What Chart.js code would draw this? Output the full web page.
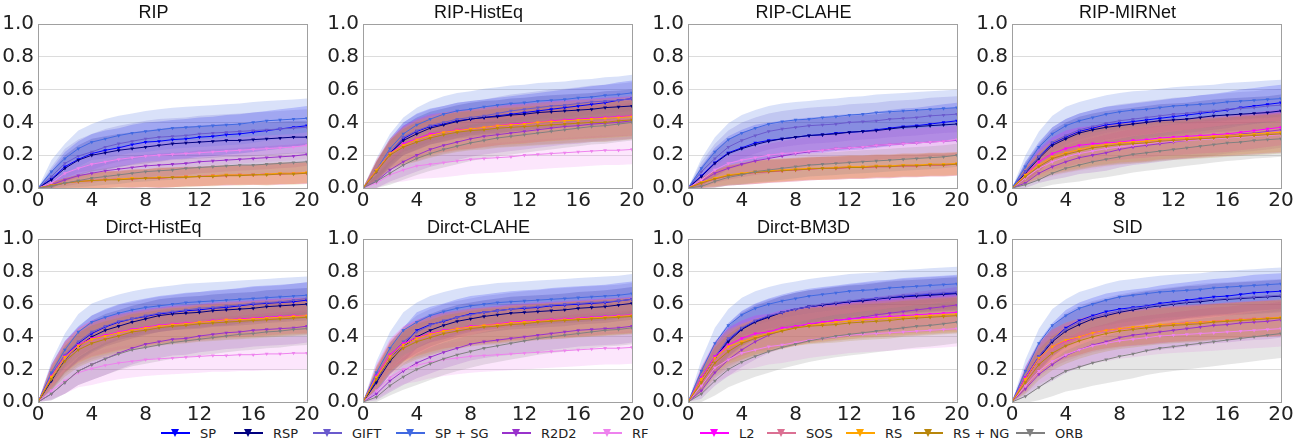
<!DOCTYPE html>
<html>
<head>
<meta charset="utf-8">
<script src="https://cdn.jsdelivr.net/npm/chart.js@4.4.0/dist/chart.umd.min.js"></script>
<style>
  body { margin:0; background:#fff; width:1303px; height:447px; position:relative; overflow:hidden; }
  .panel { position:absolute; }
  .leg { position:absolute; top:424px; height:18px; display:flex; align-items:center;
         font-family:'DejaVu Sans',sans-serif; font-size:13px; color:#222; white-space:nowrap; }
  .leg .h { position:relative; width:29px; height:2px; margin-right:10px; }
  .leg .h i { position:absolute; left:10px; top:-3px; width:0; height:0;
              border-left:4.5px solid transparent; border-right:4.5px solid transparent; border-top:8px solid; }
</style>
</head>
<body>
<script>
// ── data (values in percent, x = 0..20) ──────────────────────────────────
const STEPS   = [0,1,2,3,4,5,6,7,8,9,10,11,12,13,14,15,16,17,18,19,20];
const METHODS = ['SP','RSP','GIFT','SP + SG','R2D2','RF','L2','SOS','RS','RS + NG','ORB'];
const COLORS  = ['#0000ff','#000080','#6a5acd','#4169e1','#9932cc','#ee82ee','#ff00ff','#db7093','#ffa500','#b8860b','#808080'];
const TITLES  = ['RIP','RIP-HistEq','RIP-CLAHE','RIP-MIRNet','Dirct-HistEq','Dirct-CLAHE','Dirct-BM3D','SID'];

const ripMean = [
  [0,5.5,13,17.5,21,23,24.5,26.5,28,28.5,29.5,30,31,31.5,32.5,33,34,35,36,37,38],
  [0,5,12,17,20,21.5,23,24,25,26,27,27.5,28,28.5,29,29,29.5,30,30.5,31,31],
  [0,7,15,19.5,22,25,27,28.5,30,31,31.5,32,33,33.5,34,34.5,35,35.5,36,36.5,37],
  [0,10,18,24,28,30,32,33.5,34.5,35.5,36.5,37,37.5,38,38.5,39,40,41,41.5,42,42.5],
  [0,2,5,7.5,9,10.5,11.5,12.5,13.5,14,14.5,15,16,16.5,17,17.5,18,18.5,19,19.5,20.5],
  [0,3,9,12,14.5,16,17.5,18.5,19.5,20,20.5,21,21.5,22,22.5,23,23.5,24,24.5,25,26],
  [0,1.5,3,4,4.5,5,5.5,5.5,6,6,6.5,7,7,7.5,7.5,8,8,8.5,8.5,9,9],
  [0,1.5,3,4,4.5,5,5.5,6,6,6.5,6.5,7,7,7.5,8,8,8,8.5,9,9,9.5],
  [0,1.5,3,4,4.5,5,5.5,6,6,6.5,6.5,7,7,7.5,8,8,8,8.5,9,9,9.5],
  [0,1.5,3,4,4.5,5,5,5.5,6,6,6.5,6.5,7,7,7.5,7.5,8,8,8.5,8.5,9],
  [0,1,3,4.5,6,7,8,9,10,10.5,11,12,12.5,13,13.5,14,14,14.5,15,15.5,16]
];
const ripStd = [
  [0,6,9,11,12,12,12,12,12,12,12,12,12,12,12,12,12,12,12,12,12],
  [0,5,8,9,10,10,10,10,10,10,10,10,10,10,10,10,10,10,10,10,10],
  [0,6,9,10,11,11,11,11,11,11,11,11,11,11,11,11,11,11,11,11,11],
  [0,7,9,11,11,12,12,12,12.5,12.5,12.5,12.5,12.5,12.5,12.5,12.5,12.5,12,12,12,12],
  [0,2,4,5,6,6,6.5,6.5,7,7,7,7,7,7,7,7,7,7,7,7,7],
  [0,3,5,6,7,7,7.5,7.5,8,8,8,8,8,8,8,8,8,8,8,8,8],
  [0,2,3,4,4.5,5,5,5.5,5.5,6,6,6,6,6,6,6,6,6.5,6.5,6.5,6.5],
  [0,2,3,4,4.5,5,5,5.5,5.5,6,6,6,6,6,6,6,6,6.5,6.5,6.5,6.5],
  [0,2,3,4,4.5,5,5,5.5,5.5,6,6,6,6,6,6,6,6,6.5,6.5,6.5,6.5],
  [0,2,3,4,4.5,5,5,5.5,5.5,6,6,6,6,6,6,6,6,6.5,6.5,6.5,6.5],
  [0,1.5,3,4,5,5,5.5,5.5,6,6,6,6,6,6,6,6,6,6,6,6,6]
];

const ripHistEqMean = [
  [0,10,21,30,34.5,37.5,39,41,42,43,44,45,46,47,48,49,50,51,52,53.5,54.5],
  [0,10,21,29,33,36.5,38.5,40.5,42,43,43.5,44.5,45,46,46.5,47,47.5,48,49,49.5,50],
  [0,10,22,31,35,38,40,42,43,44,45.5,47,48,49,50,50.5,51.5,52.5,53,53.5,54.5],
  [0,11,24,33,38.5,42,45,47,48,49.5,50.5,51.5,52,53,53.5,54,55,55.5,56.5,57,58],
  [0,4,11,16,20,23.5,26,28,30,31.5,32.5,33.5,34.5,35.5,36.5,37.5,38,39,39.5,40,41],
  [0,3,8,11,13.5,14.5,15.5,16.5,17.5,18,18.5,19,20,20.5,21,21.5,22,22.5,23,23,23.5],
  [0,11,21,27,30,33,34,35.5,36,37,38,39,39.5,40,41,41.5,42,42.5,43,43.5,44],
  [0,10,20,25.5,28.5,31,33,34.5,35.5,36.5,37,37.5,38,38.5,39,39.5,40,40.5,41,41.5,42],
  [0,11,21,26,29.5,32,34,35,36,37,38,38.5,39,40,40.5,41,41.5,42,42.5,43,43.5],
  [0,10,20,25,28,30.5,32.5,34,35,35.5,36.5,37,37.5,38,38.5,39,39.5,40,40,41,41.5],
  [0,4,9,14,18,21,23.5,25.5,27.5,29,30.5,31.5,32.5,33.5,34.5,35.5,36.5,37.5,38,39,40]
];
const ripHistEqStd = [
  [0,6,9,10,11,11,11,11,11,11,11,11,11,11,11,11,11,11,11,11,11],
  [0,6,8,9,10,10,10,10,10,10,10,10,10,10,10,10,10,10,10,10,10],
  [0,6,8,9,10,10,10,10,10,10,10,10,10,10,10,10,10,10,10,10,10],
  [0,7,9,10,10.5,11,11,11,11,11,11,11,11,11,11,11,11,11,11,11,11],
  [0,4,7,9,10,10.5,11,11,11,11,11,11,11,11,11,11,11,11,11,11,11],
  [0,3,5,7,8,8.5,9,9,9,9,9,9,9,9,9,9,9,9,9,9,9],
  [0,6,9,11,12,12,12,12,12,12,12,12,12,12,12,12,12,12,12,12,12],
  [0,6,9,11,12,12,12,12,12,12,12,12,12,12,12,12,12,12,12,12,12],
  [0,6,9,11,12,12,12,12,12,12,12,12,12,12,12,12,12,12,12,12,12],
  [0,6,9,11,12,12,12,12,12,12,12,12,12,12,12,12,12,12,12,12,12],
  [0,4,7,9,10,10.5,11,11,11,11,11,11,11,11,11,11,11,11,11,11,11]
];

const ripClaheMean = [
  [0,7.5,15.5,21.5,24.5,27.5,29,30,31,32,32.5,33.5,34,34.5,35.5,36.5,37.5,38,39,40,41],
  [0,7,15,21,24,26.5,28.5,30,31,32,32.5,33,34,34.5,35,36,37,37.5,38,38.5,39],
  [0,10,18,25,29,32,34.5,36,37,38,38.5,39,40,40.5,41,42,42.5,43,44,44.5,45],
  [0,12,22,29.5,33.5,36.5,39,40.5,41.5,42,43,43.5,44.5,45,46,46.5,47,47.5,48,48.5,49],
  [0,4,9,12,14.5,16.5,18,19.5,21,22,23,24,24.5,25,26,26.5,27,27.5,28,28.5,29],
  [0,5,11,15,17,18.5,20,21,21.5,22.5,23,24,24.5,25,26,26.5,27,27.5,28,28.5,29.5],
  [0,3,5.5,7.5,8.5,9.5,10,10.5,11,11.5,12,12,12.5,12.5,13,13,13.5,13.5,14,14,14.5],
  [0,3,5.5,7.5,8.5,9.5,10.5,11,11.5,12,12,12.5,13,13,13.5,13.5,14,14,14.5,14.5,15],
  [0,3.5,6,8,9,10,10.5,11,11.5,12,12,12.5,13,13,13.5,13.5,14,14,14.5,14.5,15],
  [0,3,5.5,7.5,8.5,9.5,10,10.5,11,11.5,12,12,12.5,12.5,13,13,13.5,13.5,14,14,14.5],
  [0,1,4,6.5,8,10,11,12,13,14,14.5,15,15.5,16,16.5,17,17.5,18,18.5,19,20]
];
const ripClaheStd = [
  [0,6,9,10,11,11,11,11,11,11,11,11,11,11,11,11,11,11,11,11,11],
  [0,6,8,9,10,10,10,10,10,10,10,10,10,10,10,10,10,10,10,10,10],
  [0,6,9,10,11,11,11,11,11,11,11,11,11,11,11,11,11,11,11,11,11],
  [0,6,9,10,11,11,11,11,11,11,11,11,11,11,11,11,11,11,11,11,11],
  [0,4,6,7,8,8.5,9,9,9,9,9,9,9,9,9,9,9,9,9,9,9],
  [0,4,6,7,8,8.5,9,9,9,9,9,9,9,9,9,9,9,9,9,9,9],
  [0,3,5,6,6.5,7,7,7,7,7,7,7,7,7,7,7,7,7,7,7,7],
  [0,3,5,6,6.5,7,7,7,7,7,7,7,7,7,7,7,7,7,7,7,7],
  [0,3,5,6,6.5,7,7,7,7,7,7,7,7,7,7,7,7,7,7,7,7],
  [0,3,5,6,6.5,7,7,7,7,7,7,7,7,7,7,7,7,7,7,7,7],
  [0,2,4,5,6,6.5,7,7,7,7,7,7,7,7,7,7,7,7,7,7,7]
];

const ripMirnetMean = [
  [0,10,19,27,31,34.5,36.5,38.5,39.5,40.5,41.5,42.5,43.5,44.5,45.5,46.5,47.5,49,50,51,52],
  [0,9,18,26,30,33.5,35.5,37,38,39,40,41,41.5,42,43,44,44.5,45,45.5,46,47],
  [0,10,19,28,32,35.5,37.5,39.5,41,42,43,44,45,45.5,46.5,47,48,48.5,49,50,50.5],
  [0,13,25,33,38,41,43,45,46.5,47.5,48,49,50,50.5,51,51.5,52.5,53,53.5,54,54.5],
  [0,3,9,13,16,18.5,20,21.5,23.5,25,26,27,28,29,30,31,32,33,33.5,34.5,35.5],
  [0,6,12,16,19,21,22.5,24,25,26,27,28,28.5,29,29.5,30,30.5,31,31.5,32,32.5],
  [0,8,16,21,24,26,27,27.5,28,29,29.5,30.5,31,31.5,32,32.5,33,34,35,36,37],
  [0,7,14,18.5,21,23,25,26,27,27.5,28,29,29.5,30,30.5,31,31.5,32,32.5,33,33.5],
  [0,8,14,19,21.5,23.5,25.5,26.5,27.5,28,28.5,29.5,30,30.5,31,31.5,32,32.5,33,33.5,34],
  [0,7,13,18,20.5,22.5,24.5,25.5,26.5,27,27.5,28.5,29,29.5,30,30.5,31,31.5,32,32.5,33],
  [0,2,5,9,12,14,16,17.5,19,20.5,21.5,22.5,23.5,24.5,25.5,26.5,27.5,28,29,29.5,30]
];
const ripMirnetStd = [
  [0,6,9,10,11,11,11,11,11,11,11,11,11,11,11,11,11,11,11,11,11],
  [0,6,8,9,10,10,10,10,10,10,10,10,10,10,10,10,10,10,10,10,10],
  [0,6,8,9,10,10,10,10,10,10,10,10,10,10,10,10,10,10,10,10,10],
  [0,7,9.5,11,11.5,11.5,11.5,11.5,11.5,11.5,11.5,11.5,11.5,11.5,11.5,11.5,11.5,11.5,11.5,11.5,11.5],
  [0,3,6,8,9.5,10,10.5,11,11,11,11,11,11,11,11,11,11,11,11,11,11],
  [0,4,7,9,10,10.5,11,11,11,11,11,11,11,11,11,11,11,11,11,11,11],
  [0,5,8,10,11,11,11,11,11,11,11,11,11,11,11,11,11,11,11,11,11],
  [0,5,8,10,11,11.5,12,12,12,12,12,12,12,12,12,12,12,12,12,12,12],
  [0,5,8,10,11,11.5,12,12,12,12,12,12,12,12,12,12,12,12,12,12,12],
  [0,5,8,10,11,11.5,12,12,12,12,12,12,12,12,12,12,12,12,12,12,12],
  [0,2,5,7,9,10,10.5,11,11,11,11,11,11,11,11,11,11,11,11,11,11]
];

const dirctHistEqMean = [
  [0,16,28,36,42,46,49,51,52.5,54,55,56,56.5,57.5,58,59,60,60.5,61,61.5,62.5],
  [0,13,26,34,40,44,46.5,49,51,53,54,54.5,55,56,56.5,57,57.5,58.5,59,59.5,60],
  [0,17,29,37,43,46.5,49.5,51,53,54.5,55.5,56.5,57.5,58,59,59.5,60.5,61,61.5,62.5,63.5],
  [0,18,32,43,49,52,54.5,56.5,58,59,60,61,61.5,62,62.5,63,63.5,64,64.5,65,65.5],
  [0,5,12,19,23,26.5,30,33,35.5,37,38.5,39,40.5,41.5,42.5,43,44,44.5,45,45.5,46.5],
  [0,7,13,18,20.5,22.5,24,25,26,26.5,27,27.5,28,28.5,28.5,29,29,29.5,29.5,30,30],
  [0,16,28,35,39,41,43,44.5,46,47,48,48.5,49,50,50.5,51,51.5,52,52.5,53,53],
  [0,15,26.5,33,37,39.5,41.5,43.5,45,46,47,47.5,48.5,49,49.5,50,50.5,51,51.5,52,52.5],
  [0,15.5,27.5,34.5,38.5,40.5,42.5,44,45.5,46.5,47.5,48,49,49.5,50.5,50.5,51,51.5,52,52.5,53],
  [0,14,25,32,36,38.5,40.5,43,44,45.5,46.5,47,48,48.5,49,49.5,50,50.5,51,51.5,52],
  [0,5,12,19,23,26.5,29.5,32,33.5,35,36.5,37.5,38.5,39.5,40.5,41.5,42,43,43.5,44.5,45]
];
const dirctHistEqStd = [
  [0,7,9.5,10.5,11,11,11,11,11,11,11,11,11,11,11,11,11,11,11,11,11],
  [0,6,8,9,10,10,10,10,10,10,10,10,10,10,10,10,10,10,10,10,10],
  [0,6,8,9,10,10,10,10,10,10,10,10,10,10,10,10,10,10,10,10,10],
  [0,7,10,11,11.5,11.5,11.5,11.5,11.5,11.5,11.5,11.5,11.5,11.5,11.5,11.5,11.5,11.5,11.5,11.5,11.5],
  [0,4,7,8.5,9.5,10,10,10,10,10,10,10,10,10,10,10,10,10,10,10,10],
  [0,5,8,9,10,10,10,10,10,10,10,10,10,10,10,10,10,10,10,10,10],
  [0,7,9.5,10.5,11,11,11,11,11,11,11,11,11,11,11,11,11,11,11,11,11],
  [0,7,9.5,10.5,11,11,11,11,11,11,11,11,11,11,11,11,11,11,11,11,11],
  [0,7,9.5,10.5,11,11,11,11,11,11,11,11,11,11,11,11,11,11,11,11,11],
  [0,7,9.5,10.5,11,11,11,11,11,11,11,11,11,11,11,11,11,11,11,11,11],
  [0,4,7,8.5,9.5,10,10,10,10,10,10,10,10,10,10,10,10,10,10,10,10]
];

const dirctClaheMean = [
  [0,13,27,35,44,47.5,49.5,52,54,55,56,57,57.5,58,59,59.5,60,60.5,61,62,63],
  [0,12,25,34,40,44,47,49.5,51,52.5,53.5,54.5,55,55.5,56,56.5,57.5,58,58.5,59.5,60.5],
  [0,16,28,37,43,47,50,52,53.5,55,56,57,58,58.5,59.5,60,60.5,61,61.5,62,63],
  [0,18,33,44,49,53,55.5,57.5,59,60,61,61.5,62,62.5,63,63.5,64,64.5,65,65.5,66.5],
  [0,5,13,19,24,27.5,30.5,33,35.5,37,38,39,40,41,42,43,44,44.5,45,45.5,46.5],
  [0,7,15,20,22.5,24.5,26,27,28,28.5,29,29.5,30,30.5,31,31.5,32,32.5,33,33,33.5],
  [0,16,29,36,39.5,42,44,45,46.5,47,48,49,49.5,50,50.5,51,51.5,52,52.5,53,53.5],
  [0,15,27,34,38,40.5,42.5,44,45.5,46.5,47,48,48.5,49,49.5,50,51,51.5,52,52.5,53],
  [0,15,28,35,39,41.5,43.5,45,46,47,47.5,48.5,49,49.5,50,50.5,51,51.5,52,52.5,53],
  [0,14,26,33,37,39.5,42,43.5,45,46,46.5,47.5,48,49,49.5,50,50.5,51,51.5,52,52.5],
  [0,3,10,15.5,20,23.5,26.5,29,31,33,34.5,36,37.5,39,40,41,42,43,44,44.5,45.5]
];
const dirctClaheStd = [
  [0,7,9.5,10.5,11,11,11,11,11,11,11,11,11,11,11,11,11,11,11,11,11],
  [0,6,8,9,10,10,10,10,10,10,10,10,10,10,10,10,10,10,10,10,10],
  [0,6,8,9,10,10,10,10,10,10,10,10,10,10,10,10,10,10,10,10,10],
  [0,7,10,11,12,12,12,12,12,12,12,12,12,12,12,12,12,12,12,12,12],
  [0,4,7,8.5,9.5,10,10,10,10,10,10,10,10,10,10,10,10,10,10,10,10],
  [0,5,8,9,10,10,10,10,10,10,10,10,10,10,10,10,10,10,10,10,10],
  [0,7,9.5,10.5,11,11,11,11,11,11,11,11,11,11,11,11,11,11,11,11,11],
  [0,7,9.5,10.5,11,11,11,11,11,11,11,11,11,11,11,11,11,11,11,11,11],
  [0,7,9.5,10.5,11,11,11,11,11,11,11,11,11,11,11,11,11,11,11,11,11],
  [0,7,9.5,10.5,11,11,11,11,11,11,11,11,11,11,11,11,11,11,11,11,11],
  [0,3,6,8,9.5,10,10,10,10,10,10,10,10,10,10,10,10,10,10,10,10]
];

const dirctBm3dMean = [
  [0,14,27,38,45,49.5,52.5,55,57,58.5,59.5,60.5,61.5,62.5,63.5,64,65,65.5,66,66.5,67],
  [0,14,27,37,44.5,49,52,55,57,58.5,59.5,60.5,61.5,62,63,64,64.5,65,65.5,66,66.5],
  [0,15,28,39,45.5,50,53,55,57,58.5,60,61,62,63,63.5,64.5,65.5,66,66.5,67,67.5],
  [0,19,36,47,53.5,57.5,60,62,63.5,65,66,67,68,68.5,69,70,70.5,71,71.5,72,72.5],
  [0,7,18,26,32,37,41,44,46,47.5,49,50,51,52,53.5,54.5,55.5,56.5,57.5,58.5,59.5],
  [0,10,21,26,30,32,34,35,36.5,38,39,40,41,41.5,42,42.5,43,43.5,44,44.5,45],
  [0,15,28,35,39,42,43,45.5,46.5,48,49,50,51,51.5,52,52.5,53,53.5,54,54.5,55],
  [0,13,25.5,32.5,37,40,42,44,45.5,47,47.5,48.5,49.5,50,50.5,51,51.5,52,52.5,53,53.5],
  [0,14,27,34,37,40,42,44,45.5,47,48,49,49.5,50.5,51,51.5,52,52.5,53,53.5,54],
  [0,12,24,31,36,39,41.5,43.5,45.5,46.5,47,47.5,48.5,49,49.5,50,51,51.5,52,52.5,53],
  [0,5,13,20,24.5,28,31,33.5,35.5,37.5,39,40.5,41.5,42.5,43.5,44.5,45.5,46.5,47,48,49]
];
const dirctBm3dStd = [
  [0,7,9.5,10.5,11,11,11,11,11,11,11,11,11,11,11,11,11,11,11,11,11],
  [0,6,8,9,10,10,10,10,10,10,10,10,10,10,10,10,10,10,10,10,10],
  [0,6,8,9,10,10,10,10,10,10,10,10,10,10,10,10,10,10,10,10,10],
  [0,7,9.5,10,10.5,10.5,10.5,10.5,10.5,10.5,10.5,10.5,10.5,10.5,10.5,10.5,10.5,10.5,10.5,10.5,10.5],
  [0,5,8,10,10.5,11,11,11,11,11,11,11,11,11,11,11,11,11,11,11,11],
  [0,6,9,10,10.5,11,11,11,11,11,11,11,11,11,11,11,11,11,11,11,11],
  [0,7,9.5,10.5,11,11,11,11,11,11,11,11,11,11,11,11,11,11,11,11,11],
  [0,7,9.5,10.5,11,11,11,11,11,11,11,11,11,11,11,11,11,11,11,11,11],
  [0,7,9.5,10.5,11,11,11,11,11,11,11,11,11,11,11,11,11,11,11,11,11],
  [0,7,9.5,10.5,11,11,11,11,11,11,11,11,11,11,11,11,11,11,11,11,11],
  [0,5,9,11,12,12.5,13,13,13,13,13,13,13,13,13,13,13,13,13,13,13]
];

const sidMean = [
  [0,15,28,38,45.5,50,53,55.5,57,58,59,60.5,61.5,62.5,63.5,64.5,65,66,67,67.5,68],
  [0,14,27,37,43.5,47.5,51,53,55,56.5,58,59,60,61,61.5,62.5,63,63.5,64,64.5,65],
  [0,15,28,38,44.5,49,52,54,56,57.5,58.5,59.5,60.5,61.5,62.5,63,63.5,64,64.5,65,65.5],
  [0,19,36,47,53,57.5,60,62.5,64.5,65.5,66.5,67.5,68,68.5,69,70,70.5,71,71.5,72,72.5],
  [0,8,17,23,28.5,32,35,37,39.5,41,42,43,44,45,46,47,47.5,48.5,49,49.5,50.5],
  [0,10,19,25,29,32,34.5,36,37.5,38.5,39.5,40.5,41,41.5,42,42.5,43,43.5,44,44.5,45],
  [0,15,27,34,37.5,40,42.5,44,45,45.5,46.5,47,48,48.5,49,49.5,50,50.5,51,51.5,51.5],
  [0,13,25,32,36,39,41.5,43,44.5,45.5,46,47,47.5,48,48.5,49,49.5,50,50.5,51,51.5],
  [0,14,27,34,38,40,42.5,44,45,46,46.5,47.5,48,48.5,49,49.5,50,50.5,51,51.5,52],
  [0,12,23,30,34.5,37.5,40,42,43.5,44.5,45.5,46.5,47,47.5,48,49,49.5,50,50.5,51,51.5],
  [0,3.5,9,14.5,19,21.5,24,26,28,29.5,31.5,33,34,35,36,37,38,39,40,41,42]
];
const sidStd = [
  [0,7,9.5,10.5,11,11,11,11,11,11,11,11,11,11,11,11,11,11,11,11,11],
  [0,6,8,9,10,10,10,10,10,10,10,10,10,10,10,10,10,10,10,10,10],
  [0,6,8,9,10,10,10,10,10,10,10,10,10,10,10,10,10,10,10,10,10],
  [0,7,9,10,10,10,10,10,10,10,10,10,10,10,10,10,10,10,10,10,10],
  [0,5,8,10,10.5,11,11,11,11,11,11,11,11,11,11,11,11,11,11,11,11],
  [0,5,8,10,10.5,11,11,11,11,11,11,11,11,11,11,11,11,11,11,11,11],
  [0,7,9.5,10.5,11,11,11,11,11,11,11,11,11,11,11,11,11,11,11,11,11],
  [0,7,9.5,10.5,11,11,11,11,11,11,11,11,11,11,11,11,11,11,11,11,11],
  [0,7,9.5,10.5,11,11,11,11,11,11,11,11,11,11,11,11,11,11,11,11,11],
  [0,7,9.5,10.5,11,11,11,11,11,11,11,11,11,11,11,11,11,11,11,11,11],
  [0,4,8,11,12.5,13.5,14,14.5,15,15,15,15,15,15,15,15,15,15,15,15,15]
];

const PANEL_MEANS = [ripMean, ripHistEqMean, ripClaheMean, ripMirnetMean, dirctHistEqMean, dirctClaheMean, dirctBm3dMean, sidMean];
const PANEL_STDS  = [ripStd, ripHistEqStd, ripClaheStd, ripMirnetStd, dirctHistEqStd, dirctClaheStd, dirctBm3dStd, sidStd];

// ── layout ────────────────────────────────────────────────────────────────
const CANVAS_LEFT = [0, 325, 650, 974];
const CANVAS_TOP  = [0, 215];
const CANVAS_H    = [209, 208];
const CANVAS_W    = 321;
const LEGEND_X    = [200, 273, 352, 435, 541, 632, 739, 806, 885, 953, 1055];

function rgba(hex, a) {
  const n = parseInt(hex.slice(1), 16);
  return `rgba(${n >> 16},${(n >> 8) & 255},${n & 255},${a})`;
}

// box around the plot area (top + right spines)
const frame = {
  id: 'frame',
  afterDraw(chart) {
    const { ctx, chartArea: a } = chart;
    ctx.save();
    ctx.strokeStyle = '#a0a0a0';
    ctx.lineWidth = 1;
    ctx.strokeRect(Math.round(a.left) + 0.5, Math.round(a.top) + 0.5,
                   Math.round(a.right - a.left), Math.round(a.bottom - a.top));
    ctx.restore();
  }
};

const tickFont = { family: "'DejaVu Sans', sans-serif", size: 20 };

PANEL_MEANS.forEach((means, p) => {
  const stds = PANEL_STDS[p];
  const row = Math.floor(p / 4), col = p % 4;

  const div = document.createElement('div');
  div.className = 'panel';
  div.style.left = CANVAS_LEFT[col] + 'px';
  div.style.top = CANVAS_TOP[row] + 'px';
  const cv = document.createElement('canvas');
  cv.width = CANVAS_W; cv.height = CANVAS_H[row];
  cv.style.width = CANVAS_W + 'px'; cv.style.height = CANVAS_H[row] + 'px';
  div.appendChild(cv);
  document.body.appendChild(div);

  // Chart.js draws higher `order` first, so later methods get lower values
  // to end up on top (same stacking as the original plotting order).
  const datasets = [];
  METHODS.forEach((m, k) => {
    datasets.push({
      data: STEPS.map((x, i) => ({ x, y: (means[k][i] + stds[k][i]) / 100 })),
      borderWidth: 0, pointRadius: 0, fill: false, order: 200 - k,
    });
    datasets.push({
      data: STEPS.map((x, i) => ({ x, y: (means[k][i] - stds[k][i]) / 100 })),
      borderWidth: 0, pointRadius: 0, fill: '-1', order: 200 - k,
      backgroundColor: rgba(COLORS[k], 0.2),
    });
  });
  METHODS.forEach((m, k) => {
    datasets.push({
      label: m,
      data: STEPS.map((x, i) => ({ x, y: means[k][i] / 100 })),
      borderColor: COLORS[k], backgroundColor: COLORS[k], borderWidth: 1,
      pointStyle: 'triangle', pointRotation: 180, pointRadius: 2.2, pointBorderWidth: 0,
      tension: 0, fill: false, order: 100 - k,
    });
  });

  new Chart(cv, {
    type: 'line',
    data: { datasets },
    plugins: [frame],
    options: {
      responsive: false, animation: false, devicePixelRatio: 1,
      events: [],
      layout: { padding: { left: 0, right: 14, top: 0, bottom: 0 } },
      plugins: {
        legend: { display: false },
        tooltip: { enabled: false },
        title: {
          display: true, text: TITLES[p], color: '#111',
          font: { family: "'Liberation Sans', Arial, sans-serif", size: 18, weight: 'normal', lineHeight: 1 },
          padding: { top: 4.5, bottom: 1.5 },
        },
      },
      scales: {
        x: {
          type: 'linear', min: 0, max: 20,
          ticks: { stepSize: 4, color: '#222', font: tickFont, padding: 1, maxRotation: 0, autoSkip: false },
          grid: { display: false, drawTicks: false },
          border: { display: true, color: '#a0a0a0' },
          afterFit: s => { s.height = 21; },
        },
        y: {
          min: 0, max: 1,
          ticks: { stepSize: 0.2, color: '#222', font: tickFont, padding: 4, callback: v => v.toFixed(1) },
          grid: { color: '#dcdcdc', drawTicks: false },
          border: { display: true, color: '#a0a0a0' },
          afterFit: s => { s.width = 38; },
        },
      },
    },
  });
});

// ── legend ────────────────────────────────────────────────────────────────
METHODS.forEach((m, k) => {
  const item = document.createElement('div');
  item.className = 'leg';
  item.style.left = (LEGEND_X[k] - 39) + 'px';
  item.innerHTML = `<span class="h" style="background:${COLORS[k]}"><i style="border-top-color:${COLORS[k]}"></i></span><span>${m}</span>`;
  document.body.appendChild(item);
});
</script>
</body>
</html>
